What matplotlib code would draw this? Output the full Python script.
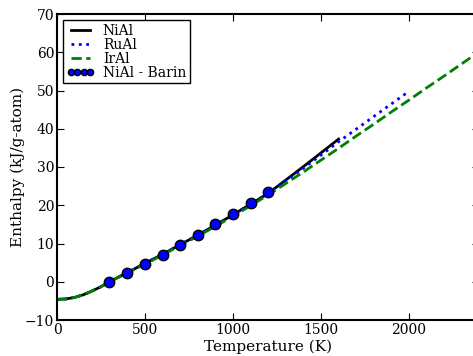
import matplotlib
matplotlib.use("Agg")
import matplotlib.pyplot as plt

plt.rcParams["font.family"] = "DejaVu Serif"

# Enthalpy H(T) - H(298) in kJ/g-atom
t_low = [0, 50, 100, 150, 200, 250, 298, 400, 500, 600, 700, 800, 900, 1000, 1100, 1200]
h_low = [-4.6, -4.5, -4.1, -3.4, -2.4, -1.3, 0.0, 2.4, 4.8, 7.2, 9.7, 12.2, 14.8, 17.5, 20.3, 23.1]

nial_t = t_low + [1300, 1400, 1500, 1600]
nial_h = h_low + [26.6, 30.1, 33.7, 37.3]

rual_t = t_low + [1300, 1400, 1500, 1600, 1700, 1800, 1900, 2000]
rual_h = h_low + [26.4, 29.7, 33.1, 36.6, 39.9, 43.2, 46.5, 49.8]

iral_t = t_low + [1300, 1400, 1500, 1600, 1700, 1800, 1900, 2000, 2100, 2200, 2300, 2400]
iral_h = [-4.6, -4.5, -4.1, -3.4, -2.4, -1.3, 0.0, 2.3, 4.6, 7.0, 9.5, 11.9, 14.5, 17.1, 19.9, 22.7,
          25.7, 28.7, 31.8, 34.9, 38.1, 41.2, 44.4, 47.5, 50.7, 53.8, 57.0, 60.2]

barin_t = [298, 400, 500, 600, 700, 800, 900, 1000, 1100, 1200]
barin_h = [0.0, 2.3, 4.7, 7.1, 9.7, 12.3, 15.0, 17.7, 20.5, 23.4]

fig = plt.figure(figsize=(4.73, 3.56), dpi=100)
ax = fig.add_axes([57 / 473, 36 / 356, 422.4 / 473, 306 / 356])

ax.plot(nial_t, nial_h, color="k", linestyle="-", linewidth=2, label="NiAl")
ax.plot(rual_t, rual_h, color="b", linestyle=":", linewidth=2, label="RuAl")
ax.plot(iral_t, iral_h, color="g", linestyle="--", linewidth=2, label="IrAl")
ax.plot(barin_t, barin_h, "o", color="b", markeredgecolor="k", markersize=7.5,
        linestyle="none", label="NiAl - Barin")

ax.set_xlim(0, 2400)
ax.set_ylim(-10, 70)
ax.set_xticks([0, 500, 1000, 1500, 2000])
ax.set_yticks(range(-10, 71, 10))
ax.tick_params(direction="in", top=True, right=True, labelsize=10, length=5, pad=2)
for s in ax.spines.values():
    s.set_linewidth(1.5)
ax.set_xlabel("Temperature (K)", fontsize=11, labelpad=2)
ax.set_ylabel("Enthalpy (kJ/g-atom)", fontsize=11, labelpad=0)

leg = ax.legend(loc="upper left", numpoints=4, markerscale=0.6, fontsize=10,
                fancybox=False, edgecolor="k", framealpha=1, borderpad=0.25,
                labelspacing=0.0, handlelength=2.0, handletextpad=0.6,
                borderaxespad=0.45)
leg.get_frame().set_linewidth(1.0)

fig.savefig("out.png", dpi=100)
